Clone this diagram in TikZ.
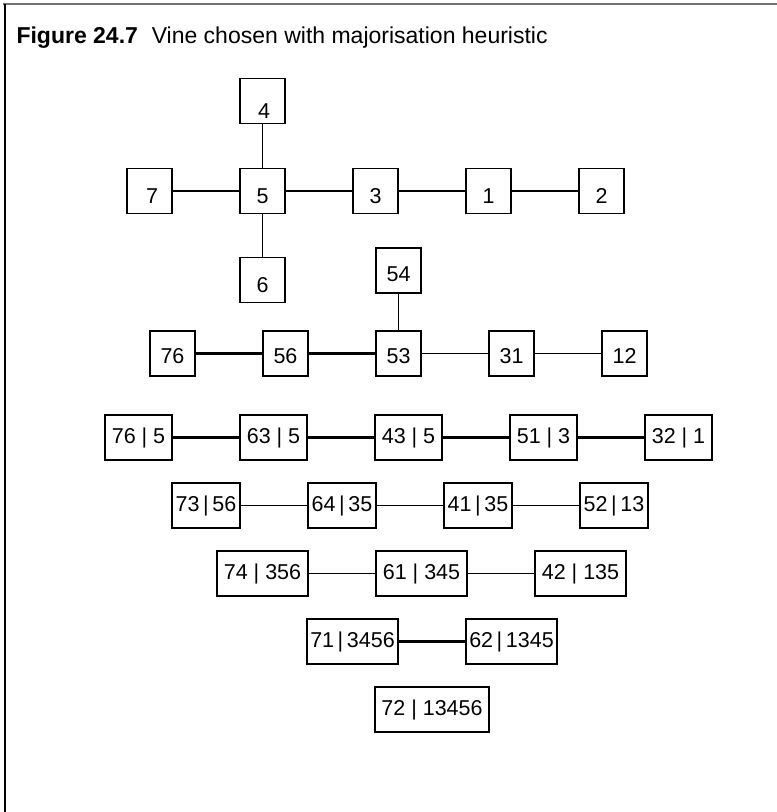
\documentclass[tikz,border=0pt]{standalone}
\usepackage{fontspec}
\setmainfont{Liberation Sans}
\usetikzlibrary{positioning}

\begin{document}
\begin{tikzpicture}[
    x=1pt, y=1pt,
    node distance=45pt and 68pt,
    vbox/.style={rectangle, draw=black, line width=1.6pt, inner sep=0pt, outer sep=0pt, minimum height=45pt, minimum width=45pt, font=\fontsize{21.5}{24}\selectfont},
    wbox/.style={vbox, minimum width=#1},
    lowtext/.style={text height=#1, text depth=0pt},
    lowtext/.default=25pt,
    link/.style={draw=black, line width=1.6pt},
    strong/.style={draw=black, line width=3.2pt}
]
    \useasboundingbox (0,0) rectangle (777,-812);
    \draw[line width=2.2pt, black!55] (3,-4) -- (777,-4);
    \draw[line width=2.2pt] (5,-4) -- (5,-812);
    \node[anchor=base west, font=\fontsize{23}{27}\selectfont] (title) at (13,-43) {\textbf{Figure 24.7}\hspace{0.6em}Vine chosen with majorisation heuristic};

    % first tree
    \node[vbox, lowtext] (t7) at (149.5,-191) {\hspace{5pt}7};
    \node[vbox, lowtext, right=of t7] (t5) {5};
    \node[vbox, lowtext, right=of t5] (t3) {3};
    \node[vbox, lowtext, right=of t3] (t1) {1};
    \node[vbox, lowtext, right=of t1] (t2) {2};
    \node[vbox, lowtext=34pt, above=of t5] (t4) {\hspace{3pt}4};
    \node[vbox, lowtext, below=44pt of t5] (t6) {6};
    \draw[link] (t7) -- (t5) -- (t3) -- (t1) -- (t2);
    \draw[link] (t4) -- (t5) -- (t6);

    % second tree
    \node[vbox, lowtext=19pt] (t76) at (172.5,-353.5) {76};
    \node[vbox, lowtext=19pt, right=of t76] (t56) {56};
    \node[vbox, lowtext=19pt, right=of t56] (t53) {53};
    \node[vbox, lowtext=19pt, right=of t53] (t31) {31};
    \node[vbox, lowtext=19pt, right=of t31] (t12) {12};
    \node[vbox, lowtext=22pt, above=38pt of t53] (t54) {54};
    \draw[strong] (t76) -- (t56) -- (t53);
    \draw[link] (t53) -- (t31) -- (t12);
    \draw[link] (t54) -- (t53);

    % third tree
    \node[wbox=67pt] (c765) at (138.5,-437.5) {76 | 5};
    \node[wbox=67pt, right=of c765] (c635) {63 | 5};
    \node[wbox=67pt, right=of c635] (c435) {43 | 5};
    \node[wbox=67pt, right=of c435] (c513) {51 | 3};
    \node[wbox=67pt, right=of c513] (c321) {32 | 1};
    \draw[strong] (c765) -- (c635) -- (c435) -- (c513) -- (c321);

    % fourth tree
    \node[wbox=68pt] (c7356) at (206,-505.5) {73\,|\,56};
    \node[wbox=68pt, right=of c7356] (c6435) {64\,|\,35};
    \node[wbox=68pt, right=of c6435] (c4135) {41\,|\,35};
    \node[wbox=68pt, right=of c4135] (c5213) {52\,|\,13};
    \draw[link] (c7356) -- (c6435) -- (c4135) -- (c5213);

    % fifth tree
    \node[wbox=91pt] (c74) at (262.5,-573.5) {74 | 356};
    \node[wbox=91pt, right=of c74] (c61) {61 | 345};
    \node[wbox=91pt, right=of c61] (c42) {42 | 135};
    \draw[link] (c74) -- (c61) -- (c42);

    % sixth tree
    \node[wbox=91pt] (c71) at (352.5,-641.5) {71\,|\,3456};
    \node[wbox=91pt, right=of c71] (c62) {62\,|\,1345};
    \draw[strong] (c71) -- (c62);

    % last tree
    \node[wbox=114pt] (c72) at (432,-709.5) {72 | 13456};
\end{tikzpicture}
\end{document}
